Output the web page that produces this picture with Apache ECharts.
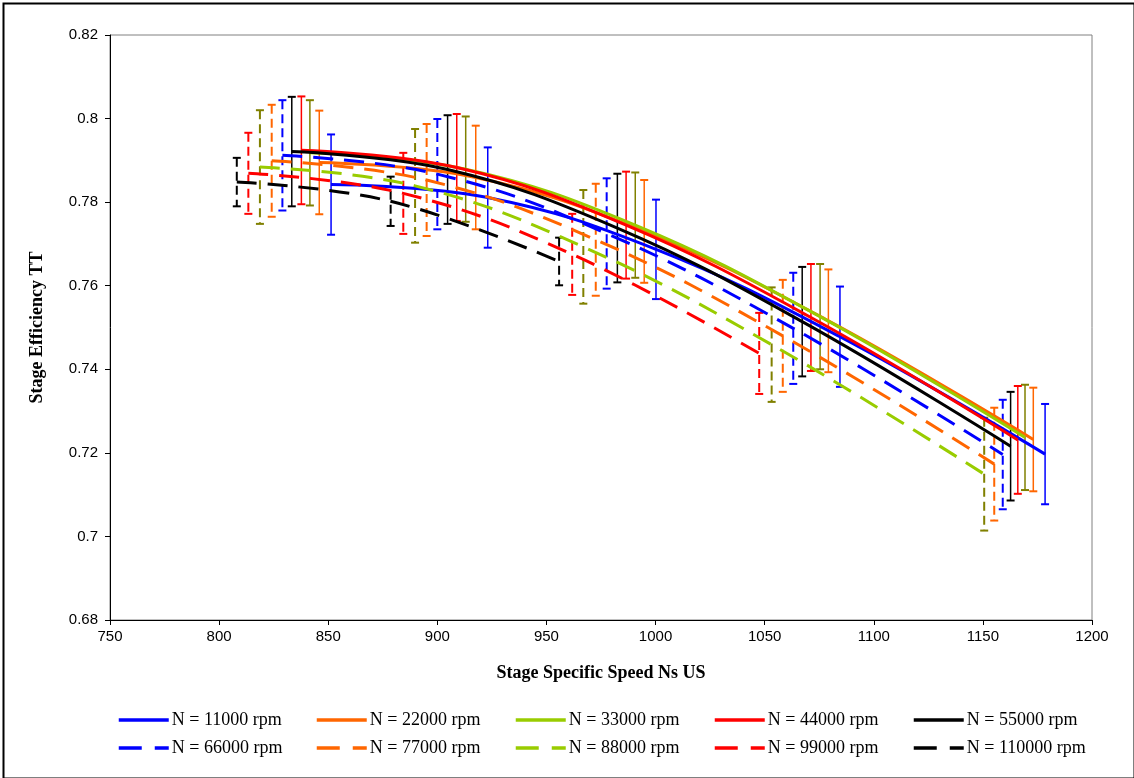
<!DOCTYPE html>
<html>
<head>
<meta charset="utf-8">
<script src="https://cdn.jsdelivr.net/npm/echarts@6/dist/echarts.min.js"></script>
<style>
html,body{margin:0;padding:0;background:#fff;}
#chart{width:1134px;height:778px;}
</style>
</head>
<body>
<div id="chart"></div>
<script>
// ---- data ----
const seriesNames = ['N = 11000 rpm','N = 22000 rpm','N = 33000 rpm','N = 44000 rpm','N = 55000 rpm',
                     'N = 66000 rpm','N = 77000 rpm','N = 88000 rpm','N = 99000 rpm','N = 110000 rpm'];

const ns11000  = [851.3, 923.1, 1000.2, 1084.5, 1178.5];
const eff11000 = [0.7842, 0.7811, 0.7687, 0.7478, 0.7197];
const err11000 = [0.0120, 0.0120, 0.0119, 0.0120, 0.0120];

const ns22000  = [845.9, 917.6, 994.8, 1079.2, 1173.1];
const eff22000 = [0.7895, 0.7859, 0.7730, 0.7516, 0.7232];
const err22000 = [0.0124, 0.0124, 0.0123, 0.0123, 0.0124];

const ns33000  = [841.6, 913.0, 990.7, 1075.4, 1169.3];
const eff33000 = [0.7918, 0.7879, 0.7745, 0.7526, 0.7237];
const err33000 = [0.0126, 0.0126, 0.0126, 0.0126, 0.0126];

const ns44000  = [837.7, 908.9, 986.5, 1071.2, 1166.0];
const eff44000 = [0.7924, 0.7883, 0.7745, 0.7524, 0.7231];
const err44000 = [0.0129, 0.0128, 0.0128, 0.0128, 0.0129];

const ns55000  = [833.3, 904.7, 982.5, 1067.2, 1162.7];
const eff55000 = [0.7921, 0.7878, 0.7738, 0.7514, 0.7216];
const err55000 = [0.0131, 0.0130, 0.0130, 0.0131, 0.0130];

const ns66000  = [829.0, 900.0, 977.6, 1063.1, 1159.1];
const eff66000 = [0.7912, 0.7867, 0.7725, 0.7498, 0.7196];
const err66000 = [0.0132, 0.0132, 0.0132, 0.0133, 0.0131];

const ns77000  = [824.1, 895.1, 972.6, 1058.3, 1155.2];
const eff77000 = [0.7899, 0.7853, 0.7710, 0.7480, 0.7173];
const err77000 = [0.0134, 0.0134, 0.0134, 0.0134, 0.0135];

const ns88000  = [818.7, 889.8, 966.9, 1053.2, 1150.6];
const eff88000 = [0.7884, 0.7839, 0.7693, 0.7459, 0.7149];
const err88000 = [0.0136, 0.0136, 0.0136, 0.0137, 0.0135];

const ns99000  = [813.4, 884.4, 961.8, 1047.5];
const eff99000 = [0.7869, 0.7821, 0.7675, 0.7438];
const err99000 = [0.0097, 0.0097, 0.0097, 0.0097];

const ns110000  = [808.1, 878.6, 955.8];
const eff110000 = [0.7848, 0.7802, 0.7658];
const err110000 = [0.0058, 0.0059, 0.0057];

const xTicks = {min: 750, max: 1200, interval: 50};
const yTicks = {min: 0.68, max: 0.82, interval: 0.02};

// ---- styling ----
const lineColors = ['#0000FF','#FF6600','#99CC00','#FF0000','#000000','#0000FF','#FF6600','#99CC00','#FF0000','#000000'];
const barColors  = ['#0000FF','#FF6600','#808000','#FF0000','#000000','#0000FF','#FF6600','#808000','#FF0000','#000000'];
const dashed     = [false,false,false,false,false,true,true,true,true,true];
const lineDash = [20, 11];

const allNs  = [ns11000, ns22000, ns33000, ns44000, ns55000, ns66000, ns77000, ns88000, ns99000, ns110000];
const allEff = [eff11000, eff22000, eff33000, eff44000, eff55000, eff66000, eff77000, eff88000, eff99000, eff110000];
const allErr = [err11000, err22000, err33000, err44000, err55000, err66000, err77000, err88000, err99000, err110000];

const series = [];
seriesNames.forEach((name, i) => {
  const pts = allNs[i].map((x, k) => [x, allEff[i][k]]);
  const errPts = allNs[i].map((x, k) => [x, allEff[i][k], allErr[i][k]]);
  // error bars
  series.push({
    type: 'custom',
    name: name + ' err',
    z: 1,
    silent: true,
    data: errPts,
    encode: {x: 0, y: 1},
    renderItem: function (params, api) {
      const x = api.value(0), y = api.value(1), e = api.value(2);
      const top = api.coord([x, y + e]);
      const bot = api.coord([x, y - e]);
      const cap = 4;
      const st = {stroke: barColors[i], lineWidth: dashed[i] ? 2 : 1.5, lineDash: dashed[i] ? [9, 5] : null};
      const capSt = {stroke: barColors[i], lineWidth: 2};
      return {
        type: 'group',
        children: [
          {type: 'line', shape: {x1: top[0], y1: top[1], x2: bot[0], y2: bot[1]}, style: st},
          {type: 'line', shape: {x1: top[0] - cap, y1: top[1], x2: top[0] + cap, y2: top[1]}, style: capSt},
          {type: 'line', shape: {x1: bot[0] - cap, y1: bot[1], x2: bot[0] + cap, y2: bot[1]}, style: capSt}
        ]
      };
    }
  });
  series.push({
    type: 'line',
    name: name,
    z: 3,
    data: pts,
    smooth: 0.4,
    symbol: 'none',
    showSymbol: false,
    lineStyle: {color: lineColors[i], width: 3, type: dashed[i] ? lineDash : 'solid'},
    itemStyle: {color: lineColors[i]},
    emphasis: {disabled: true}
  });
});

// legends: 2 rows x 5 columns
const legendCols = [117, 315, 514, 713, 912];
const legendRows = [711, 739];
const legends = seriesNames.map((name, i) => ({
  data: [name],
  left: legendCols[i % 5],
  top: legendRows[Math.floor(i / 5)],
  padding: 0,
  itemWidth: 50,
  itemHeight: 16,
  itemGap: 4,
  selectedMode: false,
  itemStyle: {opacity: 0, borderWidth: 0},
  lineStyle: {color: lineColors[i], width: 3.5, type: dashed[i] ? [23, 13] : 'solid', opacity: 1},
  textStyle: {fontFamily: 'Liberation Serif', fontSize: 18, color: '#000', padding: [0, 0, 0, -2]}
}));

const chart = echarts.init(document.getElementById('chart'), null, {renderer: 'canvas'});
chart.setOption({
  animation: false,
  backgroundColor: '#fff',
  grid: {left: 110, right: 42, top: 35, bottom: 158, show: true, borderColor: '#808080', borderWidth: 1},
  xAxis: {
    type: 'value', min: xTicks.min, max: xTicks.max, interval: xTicks.interval,
    name: 'Stage Specific Speed Ns US', nameLocation: 'middle', nameGap: 44,
    nameTextStyle: {fontFamily: 'Liberation Serif', fontWeight: 'bold', fontSize: 18, color: '#000'},
    axisLine: {lineStyle: {color: '#000', width: 1}},
    axisTick: {show: true, length: 5, lineStyle: {color: '#000'}},
    axisLabel: {fontFamily: 'Liberation Sans', fontSize: 15, color: '#000', margin: 9,
      formatter: v => String(v)},
    splitLine: {show: false}
  },
  yAxis: {
    type: 'value', min: yTicks.min, max: yTicks.max, interval: yTicks.interval,
    name: 'Stage Efficiency TT', nameLocation: 'middle', nameGap: 64, nameRotate: 90,
    nameTextStyle: {fontFamily: 'Liberation Serif', fontWeight: 'bold', fontSize: 18, color: '#000'},
    axisLine: {show: true, lineStyle: {color: '#000', width: 1}},
    axisTick: {show: true, length: 5, lineStyle: {color: '#000'}},
    axisLabel: {fontFamily: 'Liberation Sans', fontSize: 15, color: '#000', margin: 12,
      formatter: v => String(parseFloat(v.toFixed(2)))},
    splitLine: {show: false}
  },
  legend: legends,
  graphic: [{
    type: 'rect', left: 1, top: 1, silent: true, z: 100,
    shape: {width: 1131, height: 775},
    style: {fill: 'none', stroke: '#000', lineWidth: 2}
  }],
  series: series
});
</script>
</body>
</html>
